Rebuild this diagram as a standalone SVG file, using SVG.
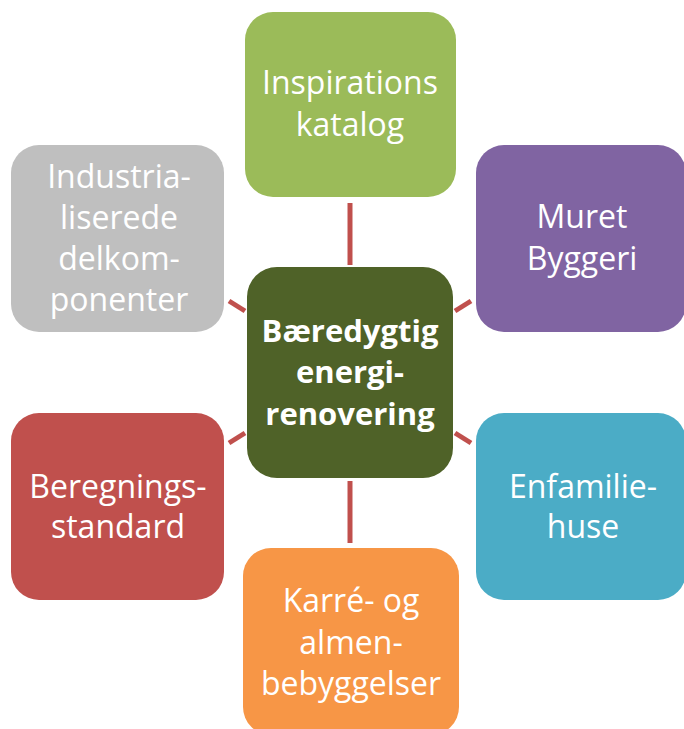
<svg xmlns="http://www.w3.org/2000/svg" width="684" height="729" viewBox="0 0 684 729">
<style>
.box{stroke:none}
.t{font-family:"Open Sans","Liberation Sans",sans-serif;font-size:32px;fill:#fff;text-anchor:middle}
.b{font-weight:bold;font-size:31px}
.c{stroke:#C0504D;stroke-width:5;fill:none}
</style>
<rect width="684" height="729" fill="#fff"/>
<g id="connectors">
<line class="c" x1="350" y1="203" x2="350" y2="265"/>
<line class="c" x1="350" y1="481" x2="350" y2="543"/>
<line class="c" x1="229" y1="301" x2="245" y2="311"/>
<line class="c" x1="455" y1="311" x2="471" y2="301"/>
<line class="c" x1="229" y1="443" x2="245" y2="433"/>
<line class="c" x1="455" y1="433" x2="471" y2="443"/>
</g>
<g id="inspirationskatalog">
<rect class="box" x="245" y="12" width="211" height="185" rx="28" fill="#9BBB59"/>
<text class="t" x="350" y="94">Inspirations</text>
<text class="t" x="350" y="136">katalog</text>
</g>
<g id="industrialiserede">
<rect class="box" x="11" y="145" width="213" height="187" rx="28" fill="#BFBFBF"/>
<text class="t" x="119" y="188">Industria-</text>
<text class="t" x="119" y="229">liserede</text>
<text class="t" x="119" y="270">delkom-</text>
<text class="t" x="119" y="311">ponenter</text>
</g>
<g id="muret">
<rect class="box" x="476" y="145" width="210" height="187" rx="28" fill="#8064A2"/>
<text class="t" x="582" y="228">Muret</text>
<text class="t" x="582" y="270">Byggeri</text>
</g>
<g id="center">
<rect class="box" x="247" y="267" width="206" height="211" rx="30" fill="#4F6228"/>
<text class="t b" x="350" y="342">Bæredygtig</text>
<text class="t b" x="350" y="383">energi-</text>
<text class="t b" x="350" y="425">renovering</text>
</g>
<g id="beregning">
<rect class="box" x="11" y="413" width="213" height="187" rx="28" fill="#C0504D"/>
<text class="t" x="118" y="498">Beregnings-</text>
<text class="t" x="118" y="538">standard</text>
</g>
<g id="enfamilie">
<rect class="box" x="476" y="413" width="210" height="187" rx="28" fill="#4BACC6"/>
<text class="t" x="583" y="498">Enfamilie-</text>
<text class="t" x="583" y="538">huse</text>
</g>
<g id="karre">
<rect class="box" x="243" y="548" width="216" height="187" rx="28" fill="#F79646"/>
<text class="t" x="351" y="612">Karré- og</text>
<text class="t" x="351" y="654">almen-</text>
<text class="t" x="351" y="695">bebyggelser</text>
</g>
</svg>
